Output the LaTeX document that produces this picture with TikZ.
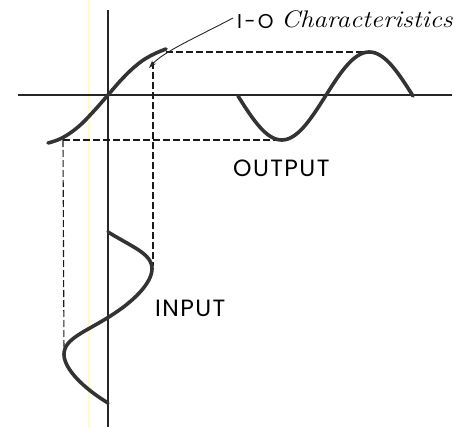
\documentclass[tikz,border=0pt]{standalone}
\usepackage{fontspec}
\usetikzlibrary{arrows.meta}
\newfontfamily\lettering{Poppins}
\tikzset{
  axis/.style={line width=1.3pt, black!85},
  wave/.style={line width=3.6pt, black!80, line cap=round},
  guide/.style={line width=1.1pt, black!90, dash pattern=on 7pt off 3pt},
  caption/.style={inner sep=0pt, font=\lettering\fontsize{23.5}{24}\selectfont\addfontfeature{LetterSpace=6}},
}
\begin{document}
\begin{tikzpicture}[x=1pt,y=-1pt]
\useasboundingbox[fill=white] (0,0) rectangle (463,428);
% scan artefact line
\draw[line width=2.5pt, yellow!22] (89,0) -- (89,428);
% axes
\coordinate (vtop) at (108,10);
\coordinate (vbot) at (108,427);
\coordinate (hl) at (18,95);
\coordinate (hr) at (452,95);
\draw[axis] (vtop) -- (vbot);
\draw[axis] (hl) -- (hr);
% key points
\coordinate (ctop) at (166,52);
\coordinate (cbot) at (63,140);
\coordinate (cmid) at (153,62);
\coordinate (opeak) at (367,52);
\coordinate (otrough) at (282,140);
\coordinate (ileft) at (64,354);
\coordinate (iright) at (153,266);
% guides
\draw[guide] (ctop) -- (opeak);
\draw[guide] (cbot) -- (otrough);
\draw[guide] (cbot) -- (ileft);
\draw[guide] (cmid) -- (iright);
% I-O characteristic
\draw[wave] plot[smooth, tension=0.7] coordinates {(48,143) (62,138) (78,127) (93,112) (108,95) (123,78) (138,64) (152,55) (166,49)};
% output
\draw[wave] plot[domain=0:360, samples=73, smooth] ({238+0.48611*\x},{96+44*sin(\x)});
% input
\draw[wave] plot[domain=0:360, samples=73, smooth] ({108+44*sin(\x)},{232+0.475*\x-6*(sin(\x))^2});
% labels
\node[inner sep=0pt, anchor=base west, font=\lettering\fontsize{20}{20}\selectfont\addfontfeature{LetterSpace=12}] (io) at (237,29) {I-O};
\node[inner sep=0pt, anchor=base west, font=\itshape\fontsize{24}{24}\selectfont] (chr) at (281,28) {\scalebox{1.12}[1]{Characteristics}};
\node[caption, anchor=base west] (out) at (233,176) {OUTPUT};
\node[caption, anchor=base west] (inp) at (155,316) {INPUT};
% pointer
\coordinate (tip) at (149,68);
\draw[line width=0.9pt, black!85, -{Stealth[length=8pt,width=5pt]}] ([xshift=-4pt,yshift=4pt]io.west) .. controls (195,38) and (163,52) .. (tip);
\end{tikzpicture}
\end{document}
